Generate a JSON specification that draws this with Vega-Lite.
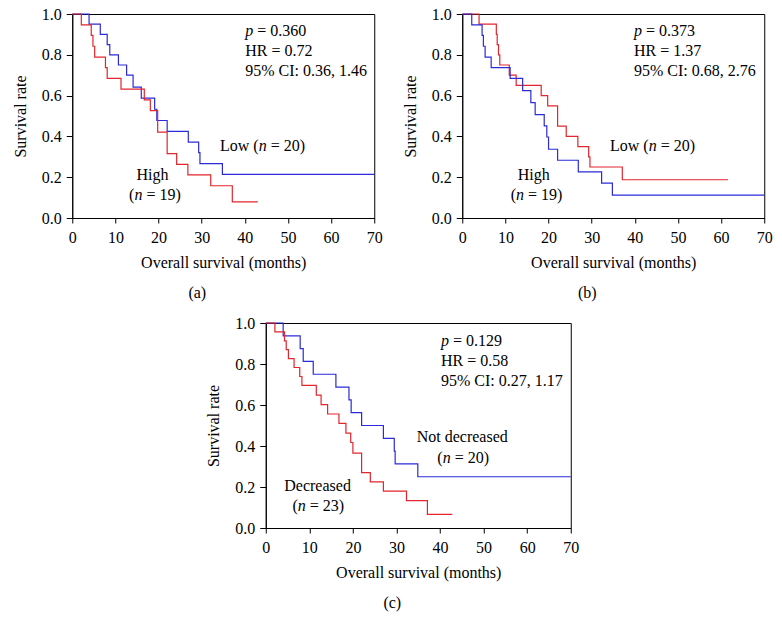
{
  "$schema": "https://vega.github.io/schema/vega-lite/v6.json",
  "padding": {"left": 11, "top": 5, "right": 4, "bottom": 4},
  "background": "white",
  "config": {
    "font": "Liberation Serif",
    "view": {"stroke": "black", "strokeWidth": 1},
    "axis": {
      "grid": false,
      "domainColor": "black",
      "tickColor": "black",
      "labelColor": "black",
      "titleColor": "black",
      "labelFont": "Liberation Serif",
      "titleFont": "Liberation Serif",
      "labelFontSize": 16,
      "titleFontSize": 16,
      "titleFontWeight": "normal",
      "labelFlush": false,
      "labelOverlap": false
    },
    "axisX": {"values": [0,5,10,15,20,25,30,35,40,45,50,55,60,65,70], "labelExpr": "datum.value % 10 === 0 ? datum.label : ''", "tickSize": 5, "labelPadding": 6, "titlePadding": 9},
    "axisY": {"values": [0,0.1,0.2,0.3,0.4,0.5,0.6,0.7,0.8,0.9,1], "labelExpr": "round(datum.value * 10) % 2 === 0 ? format(datum.value, '.1f') : ''", "tickSize": 6, "labelPadding": 5, "titlePadding": 13},
    "title": {"font": "Liberation Serif", "fontSize": 16, "fontWeight": "normal", "orient": "bottom", "frame": "bounds", "anchor": "middle", "offset": 15, "color": "black"},
    "text": {"font": "Liberation Serif", "fontSize": 16, "color": "black", "baseline": "alphabetic"}
  },
  "datasets": {
    "curves": [
      {"panel": "a", "group": "Low", "month": 0, "rate": 1},
      {"panel": "a", "group": "Low", "month": 3.9, "rate": 0.95},
      {"panel": "a", "group": "Low", "month": 6.5, "rate": 0.9},
      {"panel": "a", "group": "Low", "month": 8.1, "rate": 0.85},
      {"panel": "a", "group": "Low", "month": 8.7, "rate": 0.8},
      {"panel": "a", "group": "Low", "month": 10.7, "rate": 0.75},
      {"panel": "a", "group": "Low", "month": 12.6, "rate": 0.7},
      {"panel": "a", "group": "Low", "month": 14.1, "rate": 0.642},
      {"panel": "a", "group": "Low", "month": 16.0, "rate": 0.588},
      {"panel": "a", "group": "Low", "month": 19.1, "rate": 0.533},
      {"panel": "a", "group": "Low", "month": 19.6, "rate": 0.478},
      {"panel": "a", "group": "Low", "month": 22.0, "rate": 0.425},
      {"panel": "a", "group": "Low", "month": 26.9, "rate": 0.372},
      {"panel": "a", "group": "Low", "month": 29.3, "rate": 0.32},
      {"panel": "a", "group": "Low", "month": 29.6, "rate": 0.267},
      {"panel": "a", "group": "Low", "month": 34.8, "rate": 0.214},
      {"panel": "a", "group": "Low", "month": 70, "rate": 0.214},
      {"panel": "a", "group": "High", "month": 0, "rate": 1},
      {"panel": "a", "group": "High", "month": 2.1, "rate": 0.947},
      {"panel": "a", "group": "High", "month": 4.4, "rate": 0.895},
      {"panel": "a", "group": "High", "month": 4.8, "rate": 0.842},
      {"panel": "a", "group": "High", "month": 5.2, "rate": 0.789},
      {"panel": "a", "group": "High", "month": 7.7, "rate": 0.737},
      {"panel": "a", "group": "High", "month": 8.1, "rate": 0.684},
      {"panel": "a", "group": "High", "month": 11.3, "rate": 0.632},
      {"panel": "a", "group": "High", "month": 16.7, "rate": 0.579},
      {"panel": "a", "group": "High", "month": 18.1, "rate": 0.526},
      {"panel": "a", "group": "High", "month": 19.8, "rate": 0.421},
      {"panel": "a", "group": "High", "month": 22.0, "rate": 0.316},
      {"panel": "a", "group": "High", "month": 24.2, "rate": 0.263},
      {"panel": "a", "group": "High", "month": 26.8, "rate": 0.211},
      {"panel": "a", "group": "High", "month": 32.1, "rate": 0.158},
      {"panel": "a", "group": "High", "month": 37.1, "rate": 0.079},
      {"panel": "a", "group": "High", "month": 43.0, "rate": 0.079},
      {"panel": "b", "group": "Low", "month": 0, "rate": 1},
      {"panel": "b", "group": "Low", "month": 3.9, "rate": 0.95},
      {"panel": "b", "group": "Low", "month": 7.9, "rate": 0.9},
      {"panel": "b", "group": "Low", "month": 8.1, "rate": 0.85},
      {"panel": "b", "group": "Low", "month": 8.4, "rate": 0.8},
      {"panel": "b", "group": "Low", "month": 8.7, "rate": 0.75},
      {"panel": "b", "group": "Low", "month": 10.9, "rate": 0.7},
      {"panel": "b", "group": "Low", "month": 12.5, "rate": 0.65},
      {"panel": "b", "group": "Low", "month": 18.3, "rate": 0.6},
      {"panel": "b", "group": "Low", "month": 19.8, "rate": 0.55},
      {"panel": "b", "group": "Low", "month": 22.1, "rate": 0.45},
      {"panel": "b", "group": "Low", "month": 24.1, "rate": 0.4},
      {"panel": "b", "group": "Low", "month": 26.8, "rate": 0.35},
      {"panel": "b", "group": "Low", "month": 29.3, "rate": 0.3},
      {"panel": "b", "group": "Low", "month": 29.6, "rate": 0.25},
      {"panel": "b", "group": "Low", "month": 37.1, "rate": 0.1875},
      {"panel": "b", "group": "Low", "month": 61.6, "rate": 0.1875},
      {"panel": "b", "group": "High", "month": 0, "rate": 1},
      {"panel": "b", "group": "High", "month": 2.2, "rate": 0.947},
      {"panel": "b", "group": "High", "month": 4.6, "rate": 0.895},
      {"panel": "b", "group": "High", "month": 4.9, "rate": 0.842},
      {"panel": "b", "group": "High", "month": 5.3, "rate": 0.789},
      {"panel": "b", "group": "High", "month": 6.7, "rate": 0.737},
      {"panel": "b", "group": "High", "month": 11.1, "rate": 0.684},
      {"panel": "b", "group": "High", "month": 14.0, "rate": 0.624},
      {"panel": "b", "group": "High", "month": 15.9, "rate": 0.566},
      {"panel": "b", "group": "High", "month": 16.9, "rate": 0.507},
      {"panel": "b", "group": "High", "month": 19.0, "rate": 0.452},
      {"panel": "b", "group": "High", "month": 19.6, "rate": 0.397},
      {"panel": "b", "group": "High", "month": 20.0, "rate": 0.337},
      {"panel": "b", "group": "High", "month": 22.1, "rate": 0.283},
      {"panel": "b", "group": "High", "month": 26.9, "rate": 0.226},
      {"panel": "b", "group": "High", "month": 32.3, "rate": 0.171},
      {"panel": "b", "group": "High", "month": 34.8, "rate": 0.112},
      {"panel": "b", "group": "High", "month": 70, "rate": 0.112},
      {"panel": "c", "group": "Not decreased", "month": 0, "rate": 1},
      {"panel": "c", "group": "Not decreased", "month": 4.0, "rate": 0.9375},
      {"panel": "c", "group": "Not decreased", "month": 7.9, "rate": 0.875},
      {"panel": "c", "group": "Not decreased", "month": 8.6, "rate": 0.8125},
      {"panel": "c", "group": "Not decreased", "month": 10.9, "rate": 0.75},
      {"panel": "c", "group": "Not decreased", "month": 16.1, "rate": 0.6875},
      {"panel": "c", "group": "Not decreased", "month": 19.1, "rate": 0.625},
      {"panel": "c", "group": "Not decreased", "month": 19.6, "rate": 0.5625},
      {"panel": "c", "group": "Not decreased", "month": 22.0, "rate": 0.5},
      {"panel": "c", "group": "Not decreased", "month": 27.0, "rate": 0.4375},
      {"panel": "c", "group": "Not decreased", "month": 29.5, "rate": 0.375},
      {"panel": "c", "group": "Not decreased", "month": 29.7, "rate": 0.3125},
      {"panel": "c", "group": "Not decreased", "month": 34.9, "rate": 0.25},
      {"panel": "c", "group": "Not decreased", "month": 70, "rate": 0.25},
      {"panel": "c", "group": "Decreased", "month": 0, "rate": 1},
      {"panel": "c", "group": "Decreased", "month": 2.1, "rate": 0.957},
      {"panel": "c", "group": "Decreased", "month": 4.3, "rate": 0.913},
      {"panel": "c", "group": "Decreased", "month": 4.7, "rate": 0.87},
      {"panel": "c", "group": "Decreased", "month": 5.2, "rate": 0.826},
      {"panel": "c", "group": "Decreased", "month": 6.5, "rate": 0.783},
      {"panel": "c", "group": "Decreased", "month": 7.8, "rate": 0.739},
      {"panel": "c", "group": "Decreased", "month": 8.3, "rate": 0.696},
      {"panel": "c", "group": "Decreased", "month": 11.6, "rate": 0.648},
      {"panel": "c", "group": "Decreased", "month": 12.7, "rate": 0.602},
      {"panel": "c", "group": "Decreased", "month": 14.2, "rate": 0.556},
      {"panel": "c", "group": "Decreased", "month": 16.8, "rate": 0.51},
      {"panel": "c", "group": "Decreased", "month": 18.4, "rate": 0.463},
      {"panel": "c", "group": "Decreased", "month": 19.5, "rate": 0.417},
      {"panel": "c", "group": "Decreased", "month": 20.0, "rate": 0.365},
      {"panel": "c", "group": "Decreased", "month": 22.0, "rate": 0.27},
      {"panel": "c", "group": "Decreased", "month": 24.0, "rate": 0.225},
      {"panel": "c", "group": "Decreased", "month": 27.0, "rate": 0.18},
      {"panel": "c", "group": "Decreased", "month": 32.3, "rate": 0.134},
      {"panel": "c", "group": "Decreased", "month": 37.1, "rate": 0.066},
      {"panel": "c", "group": "Decreased", "month": 42.8, "rate": 0.066}
    ],
    "stats": [
      {"panel": "a", "symbol": "p", "text": "= 0.360", "month": 42.9, "rate": 0.892},
      {"panel": "a", "symbol": "", "text": "HR = 0.72", "month": 40.1, "rate": 0.792},
      {"panel": "a", "symbol": "", "text": "95% CI: 0.36, 1.46", "month": 40.1, "rate": 0.694},
      {"panel": "b", "symbol": "p", "text": "= 0.373", "month": 42.6, "rate": 0.892},
      {"panel": "b", "symbol": "", "text": "HR = 1.37", "month": 39.8, "rate": 0.792},
      {"panel": "b", "symbol": "", "text": "95% CI: 0.68, 2.76", "month": 39.8, "rate": 0.694},
      {"panel": "c", "symbol": "p", "text": "= 0.129", "month": 42.95, "rate": 0.888},
      {"panel": "c", "symbol": "", "text": "HR = 0.58", "month": 40.2, "rate": 0.79},
      {"panel": "c", "symbol": "", "text": "95% CI: 0.27, 1.17", "month": 40.2, "rate": 0.693}
    ],
    "counts": [
      {"panel": "a", "prefix": "Low (", "symbol": "n", "suffix": "= 20)", "month": 43.2, "rate": 0.326},
      {"panel": "a", "prefix": "(", "symbol": "n", "suffix": "= 19)", "month": 14.4, "rate": 0.09},
      {"panel": "b", "prefix": "Low (", "symbol": "n", "suffix": "= 20)", "month": 43.2, "rate": 0.326},
      {"panel": "b", "prefix": "(", "symbol": "n", "suffix": "= 19)", "month": 12.45, "rate": 0.09},
      {"panel": "c", "prefix": "(", "symbol": "n", "suffix": "= 20)", "month": 40.6, "rate": 0.318},
      {"panel": "c", "prefix": "(", "symbol": "n", "suffix": "= 23)", "month": 7.35, "rate": 0.082}
    ],
    "names": [
      {"panel": "a", "name": "High", "month": 18.6, "rate": 0.188},
      {"panel": "b", "name": "High", "month": 16.55, "rate": 0.188},
      {"panel": "c", "name": "Not decreased", "month": 45.1, "rate": 0.419},
      {"panel": "c", "name": "Decreased", "month": 11.9, "rate": 0.18}
    ]
  },
  "resolve": {"scale": {"color": "independent"}},
  "spacing": 12,
  "center": true,
  "vconcat": [
    {
      "spacing": 18,
      "resolve": {"scale": {"color": "independent"}},
      "hconcat": [
        {
          "width": 302, "height": 204,
          "title": {"text": "(a)"},
          "layer": [
            {
              "data": {"name": "curves"},
              "transform": [{"filter": "datum.panel === 'a'"}],
              "mark": {"type": "line", "interpolate": "step-after", "strokeWidth": 1.2},
              "encoding": {
                "x": {"field": "month", "type": "quantitative", "scale": {"domain": [0, 70], "nice": false, "zero": true}, "title": "Overall survival (months)"},
                "y": {"field": "rate", "type": "quantitative", "scale": {"domain": [0, 1], "nice": false}, "title": "Survival rate"},
                "color": {"field": "group", "type": "nominal", "scale": {"domain": ["Low", "High"], "range": ["#2b2bd9", "#e2262c"]}, "legend": null}
              }
            },
            {
              "data": {"name": "stats"},
              "transform": [{"filter": "datum.panel === 'a'"}],
              "mark": {"type": "text", "align": "right", "dx": -4, "fontStyle": "italic"},
              "encoding": {"x": {"field": "month", "type": "quantitative"}, "y": {"field": "rate", "type": "quantitative"}, "text": {"field": "symbol"}}
            },
            {
              "data": {"name": "stats"},
              "transform": [{"filter": "datum.panel === 'a'"}],
              "mark": {"type": "text", "align": "left"},
              "encoding": {"x": {"field": "month", "type": "quantitative"}, "y": {"field": "rate", "type": "quantitative"}, "text": {"field": "text"}}
            },
            {
              "data": {"name": "counts"},
              "transform": [{"filter": "datum.panel === 'a'"}],
              "mark": {"type": "text", "align": "right"},
              "encoding": {"x": {"field": "month", "type": "quantitative"}, "y": {"field": "rate", "type": "quantitative"}, "text": {"field": "prefix"}}
            },
            {
              "data": {"name": "counts"},
              "transform": [{"filter": "datum.panel === 'a'"}],
              "mark": {"type": "text", "align": "left", "fontStyle": "italic"},
              "encoding": {"x": {"field": "month", "type": "quantitative"}, "y": {"field": "rate", "type": "quantitative"}, "text": {"field": "symbol"}}
            },
            {
              "data": {"name": "counts"},
              "transform": [{"filter": "datum.panel === 'a'"}],
              "mark": {"type": "text", "align": "left", "dx": 12},
              "encoding": {"x": {"field": "month", "type": "quantitative"}, "y": {"field": "rate", "type": "quantitative"}, "text": {"field": "suffix"}}
            },
            {
              "data": {"name": "names"},
              "transform": [{"filter": "datum.panel === 'a'"}],
              "mark": {"type": "text", "align": "center"},
              "encoding": {"x": {"field": "month", "type": "quantitative"}, "y": {"field": "rate", "type": "quantitative"}, "text": {"field": "name"}}
            }
          ]
        },
        {
          "width": 302, "height": 204,
          "title": {"text": "(b)"},
          "layer": [
            {
              "data": {"name": "curves"},
              "transform": [{"filter": "datum.panel === 'b'"}],
              "mark": {"type": "line", "interpolate": "step-after", "strokeWidth": 1.2},
              "encoding": {
                "x": {"field": "month", "type": "quantitative", "scale": {"domain": [0, 70], "nice": false, "zero": true}, "title": "Overall survival (months)"},
                "y": {"field": "rate", "type": "quantitative", "scale": {"domain": [0, 1], "nice": false}, "title": "Survival rate"},
                "color": {"field": "group", "type": "nominal", "scale": {"domain": ["Low", "High"], "range": ["#e2262c", "#2b2bd9"]}, "legend": null}
              }
            },
            {
              "data": {"name": "stats"},
              "transform": [{"filter": "datum.panel === 'b'"}],
              "mark": {"type": "text", "align": "right", "dx": -4, "fontStyle": "italic"},
              "encoding": {"x": {"field": "month", "type": "quantitative"}, "y": {"field": "rate", "type": "quantitative"}, "text": {"field": "symbol"}}
            },
            {
              "data": {"name": "stats"},
              "transform": [{"filter": "datum.panel === 'b'"}],
              "mark": {"type": "text", "align": "left"},
              "encoding": {"x": {"field": "month", "type": "quantitative"}, "y": {"field": "rate", "type": "quantitative"}, "text": {"field": "text"}}
            },
            {
              "data": {"name": "counts"},
              "transform": [{"filter": "datum.panel === 'b'"}],
              "mark": {"type": "text", "align": "right"},
              "encoding": {"x": {"field": "month", "type": "quantitative"}, "y": {"field": "rate", "type": "quantitative"}, "text": {"field": "prefix"}}
            },
            {
              "data": {"name": "counts"},
              "transform": [{"filter": "datum.panel === 'b'"}],
              "mark": {"type": "text", "align": "left", "fontStyle": "italic"},
              "encoding": {"x": {"field": "month", "type": "quantitative"}, "y": {"field": "rate", "type": "quantitative"}, "text": {"field": "symbol"}}
            },
            {
              "data": {"name": "counts"},
              "transform": [{"filter": "datum.panel === 'b'"}],
              "mark": {"type": "text", "align": "left", "dx": 12},
              "encoding": {"x": {"field": "month", "type": "quantitative"}, "y": {"field": "rate", "type": "quantitative"}, "text": {"field": "suffix"}}
            },
            {
              "data": {"name": "names"},
              "transform": [{"filter": "datum.panel === 'b'"}],
              "mark": {"type": "text", "align": "center"},
              "encoding": {"x": {"field": "month", "type": "quantitative"}, "y": {"field": "rate", "type": "quantitative"}, "text": {"field": "name"}}
            }
          ]
        }
      ]
    },
    {
      "width": 305, "height": 205,
      "title": {"text": "(c)"},
      "layer": [
        {
          "data": {"name": "curves"},
          "transform": [{"filter": "datum.panel === 'c'"}],
          "mark": {"type": "line", "interpolate": "step-after", "strokeWidth": 1.2},
          "encoding": {
            "x": {"field": "month", "type": "quantitative", "scale": {"domain": [0, 70], "nice": false, "zero": true}, "title": "Overall survival (months)"},
            "y": {"field": "rate", "type": "quantitative", "scale": {"domain": [0, 1], "nice": false}, "title": "Survival rate"},
            "color": {"field": "group", "type": "nominal", "scale": {"domain": ["Not decreased", "Decreased"], "range": ["#2b2bd9", "#e2262c"]}, "legend": null}
          }
        },
        {
          "data": {"name": "stats"},
          "transform": [{"filter": "datum.panel === 'c'"}],
          "mark": {"type": "text", "align": "right", "dx": -4, "fontStyle": "italic"},
          "encoding": {"x": {"field": "month", "type": "quantitative"}, "y": {"field": "rate", "type": "quantitative"}, "text": {"field": "symbol"}}
        },
        {
          "data": {"name": "stats"},
          "transform": [{"filter": "datum.panel === 'c'"}],
          "mark": {"type": "text", "align": "left"},
          "encoding": {"x": {"field": "month", "type": "quantitative"}, "y": {"field": "rate", "type": "quantitative"}, "text": {"field": "text"}}
        },
        {
          "data": {"name": "counts"},
          "transform": [{"filter": "datum.panel === 'c'"}],
          "mark": {"type": "text", "align": "right"},
          "encoding": {"x": {"field": "month", "type": "quantitative"}, "y": {"field": "rate", "type": "quantitative"}, "text": {"field": "prefix"}}
        },
        {
          "data": {"name": "counts"},
          "transform": [{"filter": "datum.panel === 'c'"}],
          "mark": {"type": "text", "align": "left", "fontStyle": "italic"},
          "encoding": {"x": {"field": "month", "type": "quantitative"}, "y": {"field": "rate", "type": "quantitative"}, "text": {"field": "symbol"}}
        },
        {
          "data": {"name": "counts"},
          "transform": [{"filter": "datum.panel === 'c'"}],
          "mark": {"type": "text", "align": "left", "dx": 12},
          "encoding": {"x": {"field": "month", "type": "quantitative"}, "y": {"field": "rate", "type": "quantitative"}, "text": {"field": "suffix"}}
        },
        {
          "data": {"name": "names"},
          "transform": [{"filter": "datum.panel === 'c'"}],
          "mark": {"type": "text", "align": "center"},
          "encoding": {"x": {"field": "month", "type": "quantitative"}, "y": {"field": "rate", "type": "quantitative"}, "text": {"field": "name"}}
        }
      ]
    }
  ]
}
